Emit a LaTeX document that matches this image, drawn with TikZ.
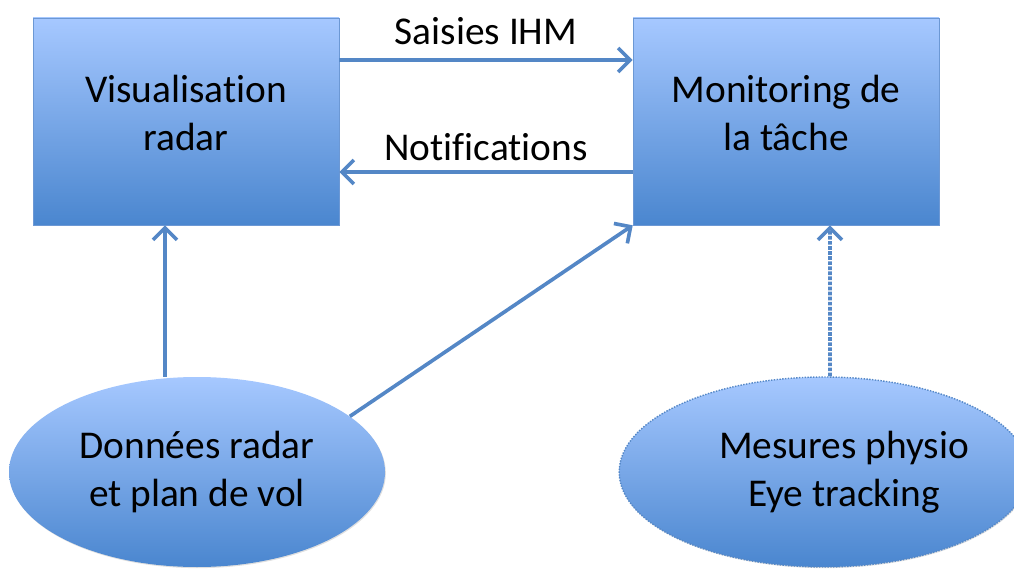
\documentclass[tikz,border=0pt]{standalone}
\usepackage{fontspec}
\setmainfont{Carlito}[Ligatures=NoCommon]
\usetikzlibrary{shapes.geometric, arrows.meta, positioning, calc, shadows}
\definecolor{radarTop}{RGB}{166, 200, 255}
\definecolor{radarBottom}{RGB}{74, 134, 207}
\definecolor{radarEdge}{RGB}{108, 152, 212}
\definecolor{radarArrow}{RGB}{84, 135, 198}

\begin{document}
\begin{tikzpicture}[
        box/.style={rectangle, draw=radarEdge, thin, top color=radarTop, bottom color=radarBottom, minimum width=7.65cm, minimum height=5.175cm, inner sep=0pt, text depth=0.45cm, align=center, font=\fontsize{28}{34}\selectfont, drop shadow={opacity=0.25, shadow xshift=0.6pt, shadow yshift=-0.8pt}},
        blob/.style={ellipse, top color=radarTop, bottom color=radarBottom, minimum width=9.4cm, minimum height=4.75cm, inner sep=0pt, align=center, font=\fontsize{28}{34}\selectfont, drop shadow={opacity=0.25, shadow xshift=0.6pt, shadow yshift=-0.8pt}},
        arr/.style={-{Straight Barb[length=3mm, width=6mm]}, line width=2.6pt, radarArrow},
        lbl/.style={font=\fontsize{28}{34}\selectfont, black}
      ]
        \useasboundingbox (0,0) rectangle (25.35,14.225);
        \node[box] (vis) at (4.65,11.1875) {Visualisation\\radar};
        \node[box] (mon) at (19.65,11.1875) {Monitoring de\\la tâche};
        \node[blob] (don) at (4.925,2.425) {Données radar\\et plan de vol};
        \node[blob, draw=radarArrow, densely dotted, line width=1pt, minimum width=9.45cm] (mes) at (20.6,2.425) {\hspace*{1cm}Mesures physio\\\hspace*{1cm}Eye tracking};
        \draw[arr] ([yshift=1.5375cm]vis.east) -- node[lbl, above=6pt] (saisie) {Saisies IHM} ([yshift=1.5375cm]mon.west);
        \draw[arr] ([yshift=-1.2625cm]mon.west) -- node[lbl, above=3pt] (notif) {Notifications} ([yshift=-1.2625cm]vis.east);
        \draw[arr] ([xshift=-0.8cm]don.north) -- ([xshift=-0.525cm]vis.south);
        \draw[arr] (don.20) -- (mon.south west);
        \draw[arr, densely dotted] ([xshift=0.15cm]mes.north) -- ([xshift=1.1cm]mon.south);
      \end{tikzpicture}
\end{document}
